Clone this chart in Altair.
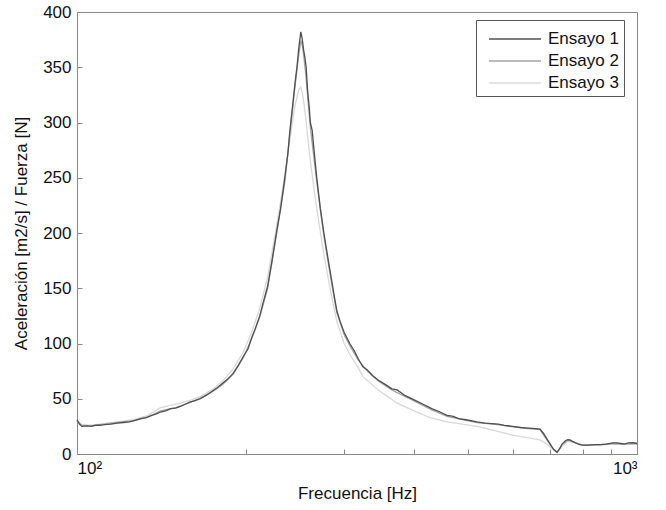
import altair as alt
import pandas as pd

series_names = ["Ensayo 1", "Ensayo 2", "Ensayo 3"]
series_colors = ["#505050", "#a4a4a4", "#d8d8d8"]

e1_freq = [100, 100.5, 101, 102, 104, 106, 108, 110, 112, 115, 118, 121, 124, 127, 130, 133, 136, 139, 141, 144,
           147, 150, 153, 156, 159, 162, 166, 170, 174, 178, 182, 186, 190, 194, 198, 202, 205, 208, 212, 215,
           219, 223, 227, 231, 235, 238, 240, 243, 245, 247, 249, 251, 252, 253, 254, 255, 256.6, 258, 260, 261,
           263, 265, 268, 272, 276, 280, 285, 288, 291, 295, 300, 307, 313, 318, 324, 330, 337, 345, 355, 365,
           373, 385, 400, 415, 430, 445, 458, 470, 480, 495, 518, 535, 550, 565, 580, 600, 620, 640, 660, 671,
           680, 690, 700, 710, 720, 728, 735, 745, 752, 759, 770, 780, 790, 801, 820, 840, 860, 880, 906, 920,
           935, 950, 965, 984, 1000]
e1_val = [31, 29, 27, 25, 25.5, 25, 26, 26, 26.5, 27, 28, 28.5, 29, 30.5, 32, 33, 35, 36.5, 38, 39,
          41, 41.5, 43, 45, 47, 48, 50, 53, 56.5, 60, 64, 68, 73, 80, 88, 95, 105, 113, 125, 137,
          152, 175, 200, 222, 250, 272, 293, 318, 335, 350, 368, 382, 378, 372, 365, 360, 350, 330, 312, 300,
          293, 275, 250, 222, 200, 180, 157, 143, 130, 120, 110, 100, 93, 86, 79, 76, 71, 67, 63, 59,
          58, 53, 49, 45, 41, 38, 35, 34, 32, 31, 29, 28, 27.5, 27, 26, 25, 24, 23.5, 23, 22.5,
          19, 14, 9, 4, 1.5, 5, 9, 12, 13, 12.7, 11, 9.5, 8.5, 8, 8, 8.5, 8.5, 9, 10, 10,
          9.5, 9, 10, 10.2, 9.5]

e2_freq = [100, 102, 106, 110, 118, 126, 134, 141, 150, 158, 166, 174, 182, 190, 198, 205, 212, 219, 227, 235,
           240, 245, 249, 251, 253, 256, 261, 268, 276, 285, 291, 300, 307, 318, 330, 345, 365, 385, 400, 430,
           458, 495, 518, 565, 600, 640, 671, 690, 705, 720, 735, 752, 770, 801, 860, 906, 950, 1000]
e2_val = [30, 26, 25.5, 26.5, 28.5, 30, 33.5, 39, 42, 46, 50.5, 56, 63, 72, 87, 104, 124, 150, 198, 246,
          290, 332, 362, 374, 368, 345, 296, 246, 197, 154, 128, 108, 98, 85, 75, 66, 58, 52, 48, 40,
          34, 30.5, 28.5, 26.5, 24.5, 23, 22, 13, 6, 1.5, 8.5, 12.5, 11, 8, 8.5, 9.5, 9, 9.5]

e3_freq = [100, 102, 106, 110, 118, 126, 134, 141, 147, 153, 160, 166, 174, 182, 190, 198, 205, 212, 219, 227,
           235, 240, 245, 249, 251, 253, 256, 261, 268, 276, 285, 291, 300, 307, 318, 324, 345, 373, 400, 427,
           458, 518, 560, 600, 640, 671, 690, 705, 720, 735, 752, 770, 801, 860, 906, 950, 1000]
e3_val = [30, 26, 26, 27, 29, 31, 35, 42, 44, 46, 49, 52, 58, 66, 77, 92, 110, 132, 160, 205,
          252, 285, 315, 330, 332, 325, 305, 265, 222, 180, 142, 120, 100, 90, 78, 70, 58, 46, 39, 33,
          29, 25, 21, 17, 14.5, 12.7, 9, 5, 1, 7, 11.5, 10.5, 8, 8, 9, 9, 9]

x_ticks = [100, 200, 300, 400, 500, 600, 700, 800, 900, 1000]
y_ticks = [0, 50, 100, 150, 200, 250, 300, 350, 400]

df = pd.concat([
    pd.DataFrame({"f": e1_freq, "a": e1_val, "serie": "Ensayo 1"}),
    pd.DataFrame({"f": e2_freq, "a": e2_val, "serie": "Ensayo 2"}),
    pd.DataFrame({"f": e3_freq, "a": e3_val, "serie": "Ensayo 3"}),
], ignore_index=True)

W, H = 560, 442
color_scale = alt.Scale(domain=series_names, range=series_colors)
x_scale = alt.Scale(type="log", domain=[100, 1000], nice=False)
y_scale = alt.Scale(domain=[0, 400], nice=False)

# main axes (labels, titles, grid)
x_main = alt.X("f:Q", scale=x_scale,
               axis=alt.Axis(values=x_ticks, title="Frecuencia [Hz]", orient="bottom",
                             labelExpr="datum.value == 100 ? '10²' : (datum.value == 1000 ? '10³' : '')",
                             labelPadding=6, titlePadding=9, ticks=False))
y_main = alt.Y("a:Q", scale=y_scale,
               axis=alt.Axis(values=y_ticks, title="Aceleración [m2/s] / Fuerza [N]", orient="left",
                             titlePadding=12, labelPadding=6, ticks=False))
# inward tick marks (axes moved across the plot so that their ticks point inside)
x_ticks_axis = alt.X("f:Q", scale=x_scale,
                     axis=alt.Axis(values=x_ticks, orient="top", offset=-H, labels=False, title=None,
                                   domain=False, grid=False, ticks=True, tickSize=5))
y_ticks_axis = alt.Y("a:Q", scale=y_scale,
                     axis=alt.Axis(values=y_ticks, orient="right", offset=-W, labels=False, title=None,
                                   domain=False, grid=False, ticks=True, tickSize=5))

# legend symbol: a horizontal stroke twice as long as the nominal symbol size
legend = alt.Legend(orient="none", legendX=399, legendY=8, title=None, strokeColor="#555",
                    fillColor="white", padding=5, symbolType="M-2,0H2", symbolSize=676,
                    symbolStrokeWidth=1.5, symbolFillColor="transparent",
                    symbolOffset=20, labelOffset=19,
                    labelFontSize=17, labelColor="#111", rowPadding=0)

base = alt.Chart(df)
specs = [
    ("Ensayo 3", x_ticks_axis, y_ticks_axis),
    ("Ensayo 2", alt.X("f:Q", scale=x_scale, axis=None), alt.Y("a:Q", scale=y_scale, axis=None)),
    ("Ensayo 1", x_main, y_main),
]
layers = []
for name, xe, ye in specs:
    layers.append(
        base.transform_filter(alt.datum.serie == name).mark_line(strokeWidth=1.3).encode(
            x=xe, y=ye,
            color=alt.Color("serie:N", scale=color_scale, legend=legend),
        )
    )

chart = alt.layer(*layers).resolve_axis(x="independent", y="independent").properties(
    width=W, height=H,
    autosize=alt.AutoSizeParams(type="none"),
    padding={"left": 77, "top": 12, "right": 29, "bottom": 56},
).configure(
    font="Liberation Sans",
    background="white",
).configure_view(
    stroke="#888", strokeWidth=1,
).configure_axis(
    grid=True, gridColor="#cfcfcf", gridDash=[1, 2], gridWidth=1,
    domainColor="#888", tickColor="#888",
    labelFontSize=17, labelColor="#111", titleFontSize=17, titleColor="#111",
    titleFontWeight="normal",
)

chart.save("out.html", embed_options={"renderer": "svg", "actions": False})
